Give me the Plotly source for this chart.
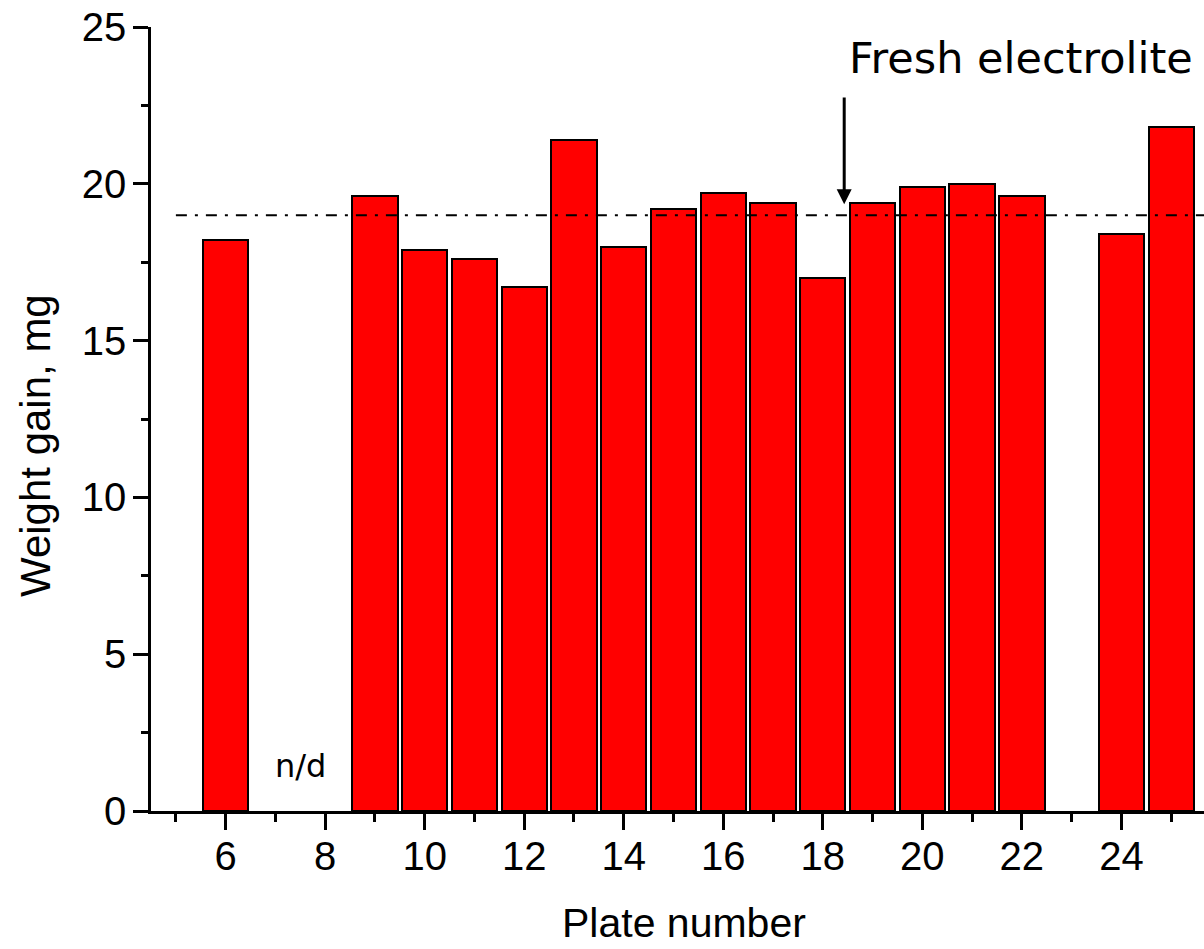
import plotly.graph_objects as go

plates = list(range(6, 26))
weight_gain = [18.2, None, None, 19.6, 17.9, 17.6, 16.7, 21.4, 18.0, 19.2,
               19.7, 19.4, 17.0, 19.4, 19.9, 20.0, 19.6, None, 18.4, 21.8]
reference_level = 19.0
fresh_x = 18.43
nd_x = 7.5

fig = go.Figure()
fig.add_trace(go.Bar(
    x=plates, y=weight_gain, width=0.91,
    marker=dict(color="#FF0000", line=dict(color="black", width=2)),
    showlegend=False,
))

fig.add_shape(type="line", xref="x", yref="y", x0=5.0, x1=25.7,
              y0=reference_level, y1=reference_level,
              line=dict(color="black", width=2, dash="11px,8px,3px,8px"), layer="above")

# arrow
fig.add_annotation(x=fresh_x, y=19.35, ax=fresh_x, ay=22.8, xref="x", yref="y",
                   axref="x", ayref="y", text="", showarrow=True,
                   arrowhead=2, arrowsize=1.0, arrowwidth=3, arrowcolor="black")
fig.add_annotation(x=21.98, y=24.0, xref="x", yref="y", text="Fresh electrolite",
                   showarrow=False, font=dict(family="DejaVu Sans", size=43, color="black"))
fig.add_annotation(x=nd_x, y=1.45, xref="x", yref="y", text="n/d",
                   showarrow=False, font=dict(family="DejaVu Sans", size=32, color="black"))

# axis titles
fig.add_annotation(x=-0.1102, y=0.4668, xref="paper", yref="paper", text="Weight gain, mg",
                   textangle=-90, showarrow=False, xanchor="center", yanchor="middle",
                   font=dict(family="Liberation Sans, Arial", size=42, color="black"))
fig.add_annotation(x=0.5062, y=-0.1430, xref="paper", yref="paper", text="Plate number",
                   showarrow=False, xanchor="center", yanchor="middle",
                   font=dict(family="Liberation Sans, Arial", size=41, color="black"))

fig.update_layout(
    width=1204, height=949,
    margin=dict(l=151, r=0, t=27, b=138),
    plot_bgcolor="white", paper_bgcolor="white",
    font=dict(family="Liberation Sans, Arial", size=40, color="black"),
    bargap=0,
)
fig.update_xaxes(
    range=[4.5, 25.66], tickmode="linear", tick0=6, dtick=2,
    ticks="outside", ticklen=16, tickwidth=2.5, tickcolor="black",
    showline=True, linecolor="black", linewidth=2.5, showgrid=False, zeroline=False,
    minor=dict(ticks="outside", ticklen=8, tickwidth=2.5, tickcolor="black", dtick=1, tick0=5, showgrid=False),
    tickfont=dict(size=40), ticklabelstandoff=-8,
)
fig.update_yaxes(
    range=[0, 25], tickmode="linear", tick0=0, dtick=5,
    ticks="outside", ticklen=15, tickwidth=2.5, tickcolor="black",
    showline=True, linecolor="black", linewidth=2.5, showgrid=False, zeroline=False,
    minor=dict(ticks="outside", ticklen=7, tickwidth=2.5, tickcolor="black", dtick=2.5, showgrid=False),
    tickfont=dict(size=40), ticklabelstandoff=-1,
)

fig.write_html("out.html")
